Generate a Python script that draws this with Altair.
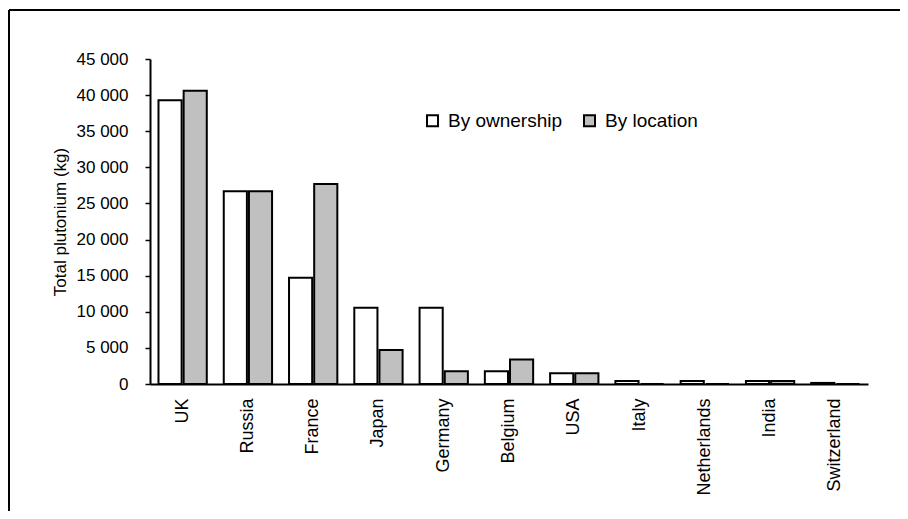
import altair as alt
import pandas as pd

countries = ["UK", "Russia", "France", "Japan", "Germany", "Belgium",
             "USA", "Italy", "Netherlands", "India", "Switzerland"]
by_ownership = [39300, 26700, 14700, 10550, 10550, 1760, 1500, 400, 400, 400, 150]
by_location = [40600, 26700, 27700, 4700, 1760, 3400, 1500, 0, 0, 400, 0]
series = ["By ownership", "By location"]
colors = ["#ffffff", "#c0c0c0"]
y_ticks = [0, 5000, 10000, 15000, 20000, 25000, 30000, 35000, 40000, 45000]

rows = []
for i, c in enumerate(countries):
    rows.append({"country": c, "series": series[0], "value": by_ownership[i]})
    rows.append({"country": c, "series": series[1], "value": by_location[i]})
df = pd.DataFrame(rows)

W, H = 718, 325
PAD_L, PAD_T, PAD_R, PAD_B = 142, 51, 32, 127
FONT = "Liberation Sans"

bars = alt.Chart(df).mark_bar(stroke="black", strokeWidth=2).encode(
    x=alt.X(
        "country:N", sort=countries,
        scale=alt.Scale(paddingInner=0.26, paddingOuter=0.13),
        axis=alt.Axis(title=None, labelAngle=270, labelPadding=14, ticks=False,
                      domainWidth=2, domainColor="black", labelFontSize=18,
                      labelColor="black", labelFont=FONT),
    ),
    xOffset=alt.XOffset("series:N", sort=series, scale=alt.Scale(paddingInner=0.08)),
    y=alt.Y(
        "value:Q",
        scale=alt.Scale(domain=[0, 45000], nice=False),
        axis=alt.Axis(values=y_ticks, title="Total plutonium (kg)",
                      labelExpr="replace(format(datum.value, ','), ',', ' ')",
                      grid=False, domainWidth=2, domainColor="black",
                      tickColor="black", tickSize=5, tickWidth=1.5,
                      labelPadding=17, labelFontSize=17, labelColor="black",
                      labelFont=FONT, titleFont=FONT, titleFontSize=17,
                      titleFontWeight="normal", titleColor="black",
                      titlePadding=7),
    ),
    color=alt.Color(
        "series:N", sort=series,
        scale=alt.Scale(domain=series, range=colors),
        legend=alt.Legend(title=None, orient="none", legendX=273, legendY=52,
                          direction="horizontal", symbolType="square",
                          symbolSize=121, symbolStrokeColor="black",
                          symbolStrokeWidth=2, labelFontSize=19,
                          labelFont=FONT, labelColor="black", columnPadding=17,
                          padding=0, labelOffset=6),
    ),
)

frame_data = alt.Data(values=[{"k": 0}])
left_line = alt.Chart(frame_data).mark_rule(color="black", strokeWidth=2).encode(
    x=alt.value(-141), y=alt.value(-49), y2=alt.value(H + PAD_B)
)
top_line = alt.Chart(frame_data).mark_rule(color="black", strokeWidth=2).encode(
    x=alt.value(-141), x2=alt.value(W + PAD_R), y=alt.value(-49)
)

chart = alt.layer(bars, left_line, top_line).properties(
    width=W, height=H,
    autosize=alt.AutoSizeParams(type="none"),
    padding={"left": PAD_L, "top": PAD_T, "right": PAD_R, "bottom": PAD_B},
    background="white",
).configure_view(stroke=None)

chart.save("out.html", embed_options={"renderer": "svg", "actions": False})
